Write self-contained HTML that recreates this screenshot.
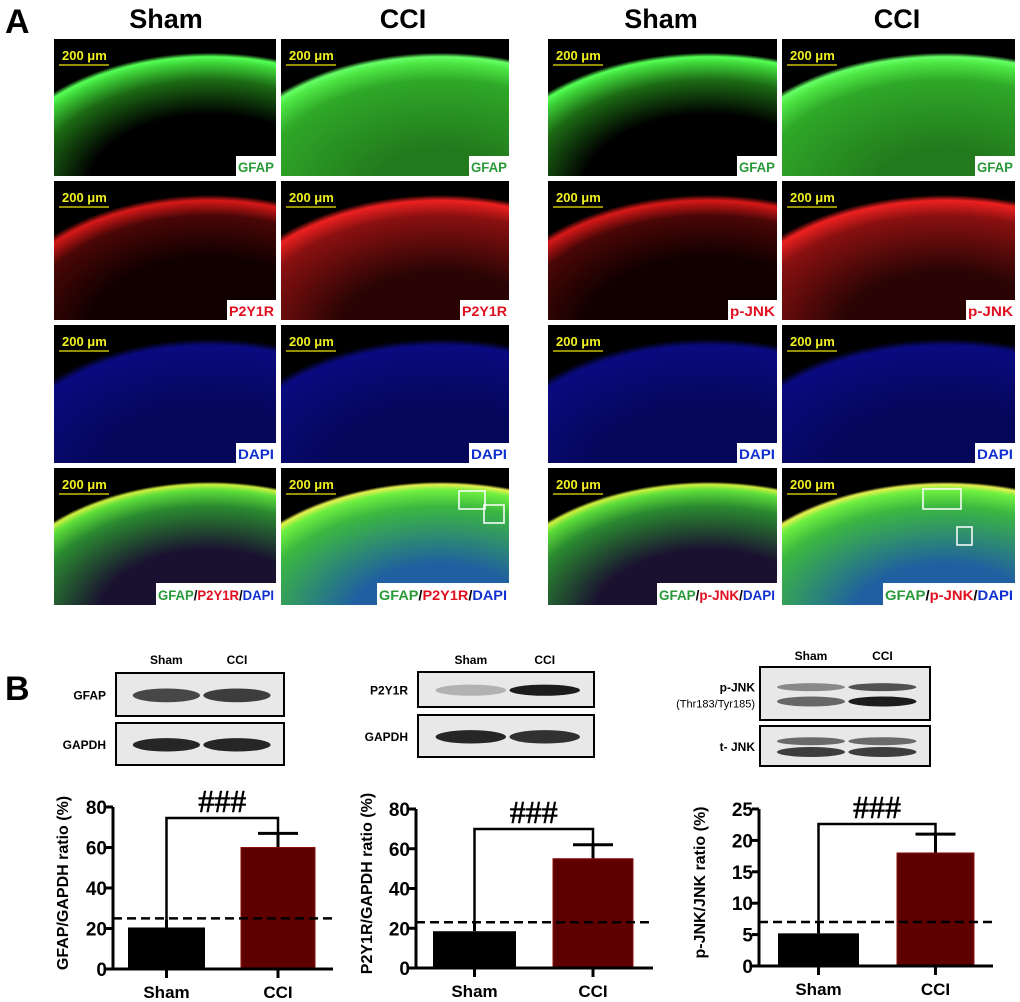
<!DOCTYPE html>
<html><head><meta charset="utf-8"><style>
body{margin:0;background:#fff;}
svg{display:block;font-family:"Liberation Sans",Arial,sans-serif;}
</style></head><body>
<svg id="fig" width="1020" height="1002" viewBox="0 0 1020 1002">
<defs>
<radialGradient id="gG" cx="0.7" cy="1.1" r="1.0"><stop offset="0.55" stop-color="#000"/><stop offset="0.80" stop-color="#1c6a14"/><stop offset="0.93" stop-color="#3fd83a"/><stop offset="0.97" stop-color="#5f5"/><stop offset="1" stop-color="#000"/></radialGradient>
<radialGradient id="gG2" cx="0.7" cy="1.1" r="1.0"><stop offset="0.3" stop-color="#227a1c"/><stop offset="0.80" stop-color="#2fa828"/><stop offset="0.93" stop-color="#4ee845"/><stop offset="0.97" stop-color="#6f6"/><stop offset="1" stop-color="#000"/></radialGradient>
<radialGradient id="gR" cx="0.7" cy="1.1" r="1.0"><stop offset="0.55" stop-color="#100"/><stop offset="0.85" stop-color="#4a0606"/><stop offset="0.96" stop-color="#d81818"/><stop offset="1" stop-color="#000"/></radialGradient>
<radialGradient id="gR2" cx="0.7" cy="1.1" r="1.0"><stop offset="0.45" stop-color="#2a0404"/><stop offset="0.85" stop-color="#8a1010"/><stop offset="0.96" stop-color="#ee2020"/><stop offset="1" stop-color="#000"/></radialGradient>
<radialGradient id="gB" cx="0.7" cy="1.1" r="1.0"><stop offset="0.5" stop-color="#06065a"/><stop offset="0.95" stop-color="#0a0a80"/><stop offset="1" stop-color="#000"/></radialGradient>
<radialGradient id="gM" cx="0.7" cy="1.1" r="1.0"><stop offset="0.5" stop-color="#1a1030"/><stop offset="0.82" stop-color="#2a8a30"/><stop offset="0.94" stop-color="#5fe03a"/><stop offset="0.98" stop-color="#d0f040"/><stop offset="1" stop-color="#000"/></radialGradient>
<radialGradient id="gM2" cx="0.7" cy="1.1" r="1.0"><stop offset="0.4" stop-color="#2060a0"/><stop offset="0.82" stop-color="#3cb840"/><stop offset="0.94" stop-color="#6ff040"/><stop offset="0.98" stop-color="#e8f050"/><stop offset="1" stop-color="#000"/></radialGradient>
</defs>
<text x="5" y="33" font-size="34" font-weight="bold">A</text>
<text x="166" y="28" font-size="27" font-weight="bold" text-anchor="middle">Sham</text>
<text x="403" y="28" font-size="27" font-weight="bold" text-anchor="middle">CCI</text>
<text x="661" y="28" font-size="27" font-weight="bold" text-anchor="middle">Sham</text>
<text x="897" y="28" font-size="27" font-weight="bold" text-anchor="middle">CCI</text>
<g id="panels"></g>
<text x="5" y="700" font-size="34" font-weight="bold">B</text>
<g id="blots"></g>
<g id="charts"></g>
</svg>
<script>
const NS='http://www.w3.org/2000/svg';
function mk(tag,attrs,parent){const e=document.createElementNS(NS,tag);for(const k in attrs)e.setAttribute(k,attrs[k]);parent.appendChild(e);return e;}
const P=document.getElementById('panels');
const colsX=[[54,222],[281,228],[548,229],[782,233]];
const rowsY=[[39,137],[181,139],[325,138],[468,137]];
const fills=[['gG','gG2','gG','gG2'],['gR','gR2','gR','gR2'],['gB','gB','gB','gB'],['gM','gM2','gM','gM2']];
const tags=[['GFAP','GFAP','GFAP','GFAP'],['P2Y1R','P2Y1R','p-JNK','p-JNK'],['DAPI','DAPI','DAPI','DAPI'],[null,null,null,null]];
const tagColors=['#2a9a3a','#e01020','#1030d0'];
for(let r=0;r<4;r++)for(let c=0;c<4;c++){
  const [x,w]=colsX[c],[y,h]=rowsY[r];
  const g=mk('g',{},P);
  
  
  mk('rect',{x:x,y:y,width:w,height:h,fill:'#000'},g);
  mk('rect',{x:x,y:y,width:w,height:h,fill:'url(#'+fills[r][c]+')'},g);
  mk('line',{x1:x+5,y1:y+26,x2:x+55,y2:y+26,stroke:'#c8c000','stroke-width':1.5},g);
  const t=mk('text',{x:x+8,y:y+21,'font-size':13,'font-weight':'bold',fill:'#f0f020'},g);t.textContent='200 μm';
  if(r<3){
    const lab=tags[r][c];const lw=lab.length*9+4;
    mk('rect',{x:x+w-lw,y:y+h-20,width:lw,height:20,fill:'#fff'},g);
    const tt=mk('text',{x:x+w-2,y:y+h-4,'font-size':14,'font-weight':'bold','text-anchor':'end',fill:tagColors[r],textLength:lw-4,lengthAdjust:'spacingAndGlyphs'},g);tt.textContent=lab;
  } else {
    const mid=c<2?'P2Y1R':'p-JNK';
    const lw=c%2?132:120;
    mk('rect',{x:x+w-lw,y:y+h-22,width:lw,height:22,fill:'#fff'},g);
    const tt=mk('text',{x:x+w-lw+2,y:y+h-5,'font-size':14,'font-weight':'bold',textLength:lw-4,lengthAdjust:'spacingAndGlyphs'},g);
    const parts=[['GFAP','#2a9a3a'],['/','#000'],[mid,'#e01020'],['/','#000'],['DAPI','#1030d0']];
    parts.forEach(p=>{const s=mk('tspan',{fill:p[1]},tt);s.textContent=p[0];});
  }
}
[[459,491,26,18],[484,505,20,18],[923,489,38,20],[957,527,15,18]].forEach((b,i)=>{const e=mk('rect',{x:b[0],y:b[1],width:b[2],height:b[3],fill:'none',stroke:'#fff','stroke-width':1.5},P);});

const B=document.getElementById('blots');
const blotDefs=[
 {x:116,w:168,hs:[[673,43],[723,42]],labels:['GFAP','GAPDH'],lx:106,top:664,inten:[[0.75,0.8],[0.9,0.9]]},
 {x:418,w:176,hs:[[672,35],[715,42]],labels:['P2Y1R','GAPDH'],lx:408,top:664,inten:[[0.25,0.95],[0.9,0.85]]},
 {x:760,w:170,hs:[[667,53],[726,40]],labels:['p-JNK','t- JNK'],lx:755,top:660,inten:[[0.6,0.95],[0.8,0.8]]}
];
blotDefs.forEach((b,i)=>{
  const g=mk('g',{},B);
  
  
  const s1=mk('text',{x:b.x+b.w*0.3,y:b.top,'font-size':12,'font-weight':'bold','text-anchor':'middle'},g);s1.textContent='Sham';
  const s2=mk('text',{x:b.x+b.w*0.72,y:b.top,'font-size':12,'font-weight':'bold','text-anchor':'middle'},g);s2.textContent='CCI';
  b.hs.forEach((hh,j)=>{
    mk('rect',{x:b.x,y:hh[0],width:b.w,height:hh[1],fill:'#e8e8e8',stroke:'#000','stroke-width':2},g);
    [0.3,0.72].forEach((cx,k)=>{
      const a=b.inten[j][k];
      if(i===2){
        mk('ellipse',{cx:b.x+b.w*cx,cy:hh[0]+hh[1]*0.38,rx:b.w*0.2,ry:4,fill:'#222',opacity:a*0.8},g);
        mk('ellipse',{cx:b.x+b.w*cx,cy:hh[0]+hh[1]*0.65,rx:b.w*0.2,ry:5,fill:'#111',opacity:a},g);
      } else {
        mk('ellipse',{cx:b.x+b.w*cx,cy:hh[0]+hh[1]*0.52,rx:b.w*0.2,ry:hh[1]*0.16,fill:'#111',opacity:a},g);
      }
    });
    const t=mk('text',{x:b.lx,y:hh[0]+hh[1]/2+(i===2&&j===0?-2:5),'font-size':12,'font-weight':'bold','text-anchor':'end'},g);t.textContent=b.labels[j];
    if(i===2&&j===0){const t2=mk('text',{x:b.lx,y:hh[0]+hh[1]/2+14,'font-size':11,'text-anchor':'end'},g);t2.textContent='(Thr183/Tyr185)';}
  });
});

const categories=['Sham','CCI'];
const gfapValues=[20.5,60];
const gfapErrors=[4,7];
const p2y1rValues=[18.5,55];
const p2y1rErrors=[4,7];
const pjnkValues=[5.2,18];
const pjnkErrors=[2,3];
const gfapTicks=[0,20,40,60,80];
const p2y1rTicks=[0,20,40,60,80];
const pjnkTicks=[0,5,10,15,20,25];
const gfapDashed=25, p2y1rDashed=23, pjnkDashed=7;
const sigLabel='###';

const C=document.getElementById('charts');
function chart(id,title,ax,x0,x1,y0,yTop,max,values,errors,ticks,dashed,bars,bracketY,titleX){
  const g=mk('g',{},C);
  
  
  const ys=v=>y0-(v/max)*(y0-yTop);
  const colors=['#000','#5e0000'];
  values.forEach((v,i)=>{
    const [bx,bw]=bars[i];const cx=bx+bw/2;
    const el=mk('line',{x1:cx,y1:ys(v),x2:cx,y2:ys(v+errors[i]),stroke:'#000','stroke-width':3},g);
    
    
    if(i===1){const cap=mk('line',{x1:cx-20,y1:ys(v+errors[i]),x2:cx+20,y2:ys(v+errors[i]),stroke:'#000','stroke-width':3},g);
      }
    const r=mk('rect',{x:bx,y:ys(v),width:bw,height:y0-ys(v),fill:colors[i],stroke:i?'#8a1010':'none','stroke-width':1},g);
    
    
    const tk=mk('line',{x1:cx,y1:y0,x2:cx,y2:y0+9,stroke:'#000','stroke-width':3},g);
    
    const tl=mk('text',{x:cx,y:y0+29,'font-size':17,'font-weight':'bold','text-anchor':'middle'},g);tl.textContent=categories[i];
    
  });
  const dl=mk('line',{x1:ax,y1:ys(dashed),x2:x1,y2:ys(dashed),stroke:'#000','stroke-width':2.5,'stroke-dasharray':'9,5'},g);
  
  const yaxis=mk('line',{x1:ax,y1:yTop,x2:ax,y2:y0+1.5,stroke:'#000','stroke-width':3},g);
  
  const xaxis=mk('line',{x1:ax,y1:y0,x2:x1,y2:y0,stroke:'#000','stroke-width':3},g);
  
  ticks.forEach(t=>{
    const tk=mk('line',{x1:ax-7,y1:ys(t),x2:ax,y2:ys(t),stroke:'#000','stroke-width':3},g);
    
    const tl=mk('text',{x:ax-6,y:ys(t)+7,'font-size':19,'font-weight':'bold','text-anchor':'end'},g);tl.textContent=t;
    
  });
  const c0=bars[0][0]+bars[0][1]/2,c1=bars[1][0]+bars[1][1]/2;
  const br=mk('path',{d:`M${c0},${ys(values[0]+errors[0])} V${bracketY} H${c1} V${ys(values[1]+errors[1])}`,fill:'none',stroke:'#000','stroke-width':2.5},g);
  
  const sg=mk('text',{x:(c0+c1)/2,y:bracketY-6,'font-size':32,'text-anchor':'middle','font-family':'Liberation Serif, serif','stroke':'#000','stroke-width':0.6},g);sg.textContent=sigLabel;
  
  const yt=mk('text',{x:0,y:0,'font-size':16,'font-weight':'bold','text-anchor':'middle',transform:`translate(${titleX},${(y0+yTop)/2-5}) rotate(-90)`},g);yt.textContent=title;
  
}
chart('gfap','GFAP/GAPDH ratio (%)',113,113,333,969,807,80,gfapValues,gfapErrors,gfapTicks,gfapDashed,[[128,77],[241,74]],818,68);
chart('p2y1r','P2Y1R/GAPDH ratio (%)',416,416,653,968,809,80,p2y1rValues,p2y1rErrors,p2y1rTicks,p2y1rDashed,[[433,83],[553,80]],829,372);
chart('pjnk','p-JNK/JNK ratio (%)',759,759,993,966,809,25,pjnkValues,pjnkErrors,pjnkTicks,pjnkDashed,[[778,81],[897,77]],824,705);
</script>
</body></html>
